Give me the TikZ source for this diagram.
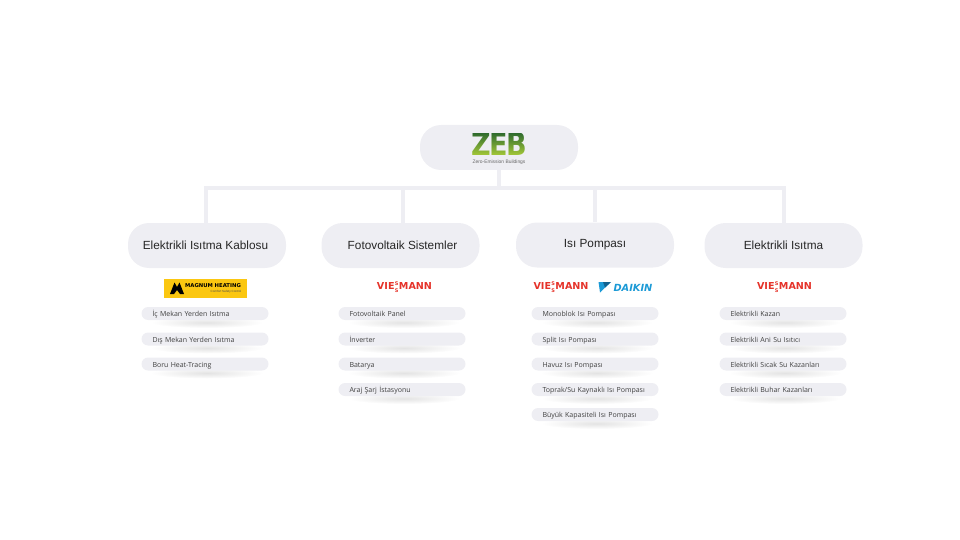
\documentclass[tikz,border=0pt]{standalone}
\usepackage{fontspec}
\setmainfont{Liberation Sans}
\newfontfamily\itemfont{Open Sans}
\newfontfamily\logofont{DejaVu Sans}
\usepackage{tikz}
\usetikzlibrary{positioning}
\usetikzlibrary{fadings}

\definecolor{paleblock}{HTML}{EEEEF3}
\definecolor{viered}{HTML}{E5332A}
\definecolor{daikinblue}{HTML}{1C9AD6}
\definecolor{daikindark}{HTML}{12628F}
\definecolor{magyellow}{HTML}{FBC711}
\definecolor{zebdark}{HTML}{2F6B2E}
\definecolor{zeblight}{HTML}{A9CC38}

\begin{tikzfadingfrompicture}[name=zebfade]
    \node[text=transparent!0,inner sep=0pt,xscale=.86,font=\logofont\fontsize{31.5}{32}\selectfont\bfseries] at(0,0) {Z\kern-2pt E\kern-2pt B};
\end{tikzfadingfrompicture}

\newcommand{\itembox}[4]{%
    \shade[inner color=black!11,outer color=white] (#2+2,#3+9) ellipse (56 and 5.5);
    \node[itemstyle] (#1) at(#2,#3) {#4};
}
\newcommand{\vielogo}[3]{%
    \node[viestyle] (#1) at(#2,#3) {VIE\hspace{.4pt}{\fontsize{5}{5}\selectfont\rlap{\raisebox{3.5pt}{S}}\raisebox{-3.5pt}{S}}\hspace{.4pt}MANN};
}

\begin{document}
\begin{tikzpicture}[x=1pt,y=-1pt,
    blockstyle/.style={rounded corners=21pt,fill=paleblock,minimum width=158pt,minimum height=45pt,inner sep=0pt,font=\fontsize{11.8}{12}\selectfont,text=black!85},
    itemstyle/.style={rounded corners=6.5pt,fill=paleblock,minimum width=127pt,minimum height=13pt,inner sep=0pt,text width=105pt,text height=6.5pt,text depth=.5pt,font=\itemfont\fontsize{7}{7}\selectfont,text=black!75},
    viestyle/.style={inner sep=0pt,text=viered,font=\logofont\fontsize{9.6}{9}\selectfont\bfseries},
    linkstyle/.style={draw=paleblock,line width=3.5pt}]
    \useasboundingbox (0,0) rectangle (960,540);
    % top block
    \node[blockstyle] (zeb) at(499,147.5) {};
    \shade[top color=zebdark,bottom color=zeblight,path fading=zebfade,fit fading=false,fading transform={shift={(499pt,-144.5pt)}}] (459,133) rectangle (539,156);
    \node[inner sep=0pt,text=black!60,font=\fontsize{4.9}{5}\selectfont] (zebsub) at(499,162.5) {Zero-Emission Buildings};
    % category blocks
    \node[blockstyle] (cat1) at(207,245.5) {Elektrikli Isıtma Kablosu\hspace*{3pt}};
    \node[blockstyle] (cat2) at(400.5,245.5) {\hspace*{4pt}Fotovoltaik Sistemler};
    \node[blockstyle] (cat3) at(595,245) {Isı Pompası};
    \node[blockstyle] (cat4) at(783.5,245.5) {Elektrikli Isıtma};
    % connectors
    \coordinate (hub) at(499,188);
    \coordinate (bus1) at(206,188);
    \coordinate (bus2) at(403,188);
    \coordinate (bus3) at(595,188);
    \coordinate (bus4) at(784,188);
    \draw[linkstyle] (zeb.south -| hub) -- (hub);
    \draw[linkstyle] ([xshift=-1.75pt]bus1) -- ([xshift=1.75pt]bus4);
    \draw[linkstyle] (bus1) -- (bus1 |- cat1.north);
    \draw[linkstyle] (bus2) -- (bus2 |- cat2.north);
    \draw[linkstyle] (bus3) -- (bus3 |- cat3.north);
    \draw[linkstyle] (bus4) -- (bus4 |- cat4.north);
    % logos
    \node[fill=magyellow,minimum width=83pt,minimum height=19.5pt,inner sep=0pt] (magnum) at(205.5,288.5) {};
    \fill[black] (170,294) -- (174.5,282.5) -- (177,287) -- (179.5,282.5) -- (184,294) -- (180,294) -- (177,290) -- (174,294) -- cycle;
    \node[inner sep=0pt,font=\logofont\fontsize{5.3}{6}\selectfont\bfseries] (magtext) at(213,286) {MAGNUM HEATING};
    \node[inner sep=0pt,text=black!70,font=\fontsize{3}{3}\selectfont] (magsub) at(226,291.5) {Comfort Safety Control};
    \vielogo{vie2}{404.5}{287.5}
    \vielogo{vie3}{561}{287.5}
    \vielogo{vie4}{784.5}{287.5}
    \fill[daikinblue] (598.5,282) -- (611,282) -- (600,292.5) -- cycle;
    \fill[daikindark] (603,282) -- (611,282) -- (605,287.5) -- cycle;
    \node[inner sep=0pt,text=daikinblue,font=\logofont\fontsize{9.8}{9}\selectfont\bfseries\itshape] (daikin) at(633,287.5) {DAIKIN};
    % items
    \itembox{a1}{205}{313.5}{İç Mekan Yerden Isıtma}
    \itembox{a2}{205}{339}{Dış Mekan Yerden Isıtma}
    \itembox{a3}{205}{364}{Boru Heat-Tracing}
    \itembox{b1}{402}{313.5}{Fotovoltaik Panel}
    \itembox{b2}{402}{339}{İnverter}
    \itembox{b3}{402}{364}{Batarya}
    \itembox{b4}{402}{389.5}{Araj Şarj İstasyonu}
    \itembox{c1}{595}{313.5}{Monoblok Isı Pompası}
    \itembox{c2}{595}{339}{Split Isı Pompası}
    \itembox{c3}{595}{364}{Havuz Isı Pompası}
    \itembox{c4}{595}{389.5}{Toprak/Su Kaynaklı Isı Pompası}
    \itembox{c5}{595}{414.5}{Büyük Kapasiteli Isı Pompası}
    \itembox{d1}{783}{313.5}{Elektrikli Kazan}
    \itembox{d2}{783}{339}{Elektrikli Ani Su Isıtıcı}
    \itembox{d3}{783}{364}{Elektrikli Sıcak Su Kazanları}
    \itembox{d4}{783}{389.5}{Elektrikli Buhar Kazanları}
\end{tikzpicture}
\end{document}
